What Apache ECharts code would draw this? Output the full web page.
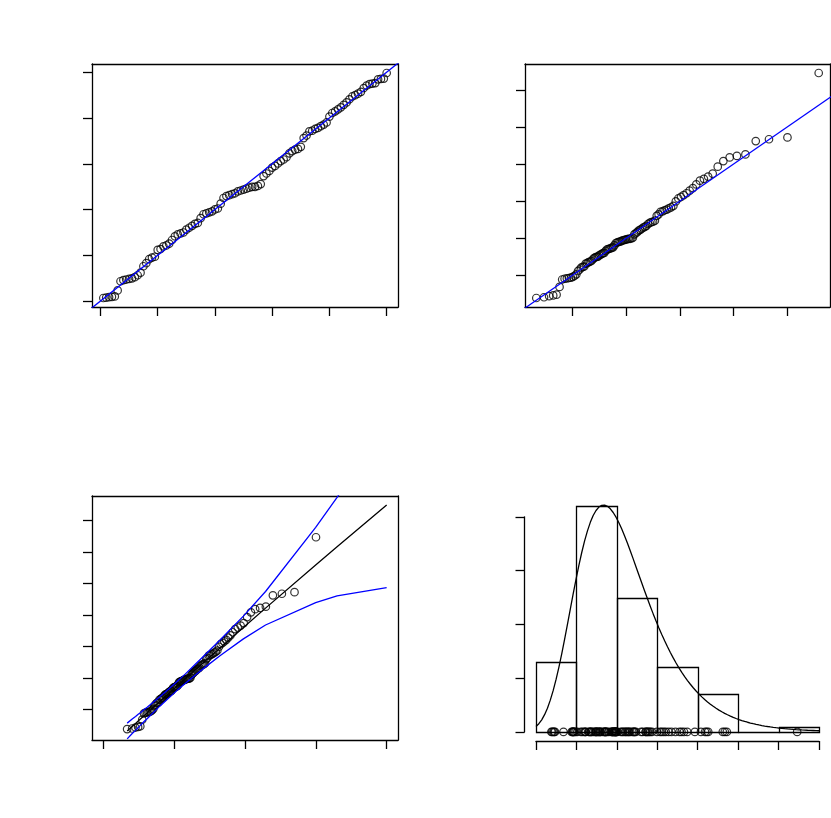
<!DOCTYPE html>
<html>
<head>
<meta charset="utf-8">
<script src="https://cdn.jsdelivr.net/npm/echarts@6/dist/echarts.min.js"></script>
<style>
  html, body { margin: 0; padding: 0; background: #fff; }
  #chart { width: 831px; height: 818px; }
</style>
</head>
<body>
<div id="chart"></div>
<script>
// sorted sample
const obs = [
  0.38, 0.40, 0.43, 0.45, 0.47, 0.68, 0.88, 0.90, 0.91, 0.92,
  0.93, 0.95, 0.98, 1.02, 1.11, 1.15, 1.20, 1.22, 1.23, 1.31,
  1.32, 1.35, 1.36, 1.38, 1.42, 1.46, 1.48, 1.49, 1.50, 1.53,
  1.55, 1.57, 1.59, 1.60, 1.65, 1.69, 1.70, 1.71, 1.72, 1.74,
  1.75, 1.80, 1.86, 1.88, 1.89, 1.90, 1.91, 1.93, 1.94, 1.95,
  1.96, 1.97, 1.98, 1.98, 1.99, 2.01, 2.10, 2.13, 2.16, 2.20,
  2.22, 2.25, 2.28, 2.30, 2.33, 2.38, 2.41, 2.43, 2.44, 2.47,
  2.60, 2.64, 2.71, 2.72, 2.75, 2.77, 2.80, 2.83, 2.87, 2.99,
  3.07, 3.11, 3.16, 3.21, 3.28, 3.35, 3.45, 3.55, 3.60, 3.66,
  3.74, 3.93, 4.08, 4.18, 4.22, 4.26, 4.62, 4.67, 4.72, 6.46
];

// fitted GEV (location, scale, shape), estimated from the plots
const gevFit = [1.663, 0.8716, -0.01];

// histogram breaks
const histBreaks = [0, 1, 2, 3, 4, 5, 6, 7];

// return level plot: probabilities and the 95% band
const rlProbs = [0.01, 0.02, 0.03, 0.04, 0.05, 0.06, 0.07, 0.08, 0.09, 0.1,
  0.2, 0.3, 0.4, 0.5, 0.6, 0.7, 0.8, 0.9, 0.95, 0.99, 0.995, 0.999];
const rlUpper = [0.57, 0.70, 0.78, 0.85, 0.90, 0.95, 1.00, 1.04, 1.07, 1.11,
  1.40, 1.64, 1.88, 2.13, 2.42, 2.76, 3.21, 3.96, 4.74, 6.77, 7.72, 10.10];
const rlLower = [0.07, 0.24, 0.34, 0.43, 0.50, 0.56, 0.62, 0.67, 0.71, 0.76,
  1.10, 1.36, 1.60, 1.83, 2.08, 2.36, 2.71, 3.24, 3.68, 4.39, 4.60, 4.86];

// tick positions (no labels drawn)
const ppTicks = [0, 0.2, 0.4, 0.6, 0.8, 1];
const qqTicksX = [1, 2, 3, 4, 5];
const qqTicksY = [1, 2, 3, 4, 5, 6];
const rlPeriodTicks = [0.1, 1, 10, 100, 1000];
const rlTicksY = [1, 2, 3, 4, 5, 6, 7];
const densTicksX = [0, 1, 2, 3, 4, 5, 6, 7];
const densTicksY = [0, 0.1, 0.2, 0.3, 0.4];

const ink = '#000';
const blue = '#0000ff';
const lw = 1.3;

function gevCdf(x) {
    const [mu, sc, xi] = gevFit;
    const t = Math.pow(1 + xi * (x - mu) / sc, -1 / xi);
    return Math.exp(-t);
}
function gevQuantile(p) {
    const [mu, sc, xi] = gevFit;
    return mu + sc * (Math.pow(-Math.log(p), -xi) - 1) / xi;
}
function gevPdf(x) {
    const [mu, sc, xi] = gevFit;
    const t = Math.pow(1 + xi * (x - mu) / sc, -1 / xi);
    return Math.pow(t, xi + 1) * Math.exp(-t) / sc;
}
// R's default 4% axis extension
function rRange(lo, hi) {
    const d = (hi - lo) * 0.04;
    return [lo - d, hi + d];
}
const n = obs.length;

// probability plot
const ppData = obs.map((v, i) => [(i + 1) / n, gevCdf(v)]);
const ppX = rRange(ppData[0][0], ppData[n - 1][0]);
const ppY = rRange(ppData[0][1], ppData[n - 1][1]);

// quantile plot
const qqData = obs.map((v, i) => [gevQuantile((i + 1) / (n + 1)), v]);
const qqX = rRange(qqData[0][0], qqData[n - 1][0]);
const qqY = rRange(obs[0], obs[n - 1]);

// return level plot (x in log10 of return period)
const lgT = p => Math.log10(-1 / Math.log(p));
const rlLevel = rlProbs.map(f => [lgT(f), gevQuantile(f)]);
const rlUp = rlProbs.map((f, k) => [lgT(f), rlUpper[k]]);
const rlLo = rlProbs.map((f, k) => [lgT(f), rlLower[k]]);
const rlPts = obs.map((v, i) => [lgT((i + 1) / (n + 1)), v]);
const rlX = rRange(Math.log10(0.1), Math.log10(1000));
const rlLevels = rlLevel.map(d => d[1]);
const rlY = rRange(Math.min(obs[0], ...rlLevels), Math.max(obs[n - 1], ...rlLevels));
const rlTicksX = rlPeriodTicks.map(t => Math.log10(t));

// density plot
const binW = histBreaks[1] - histBreaks[0];
const histData = [];
for (let k = 0; k < histBreaks.length - 1; k++) {
    const a = histBreaks[k], b = histBreaks[k + 1];
    const cnt = obs.filter(v => (k === 0 ? v >= a : v > a) && v <= b).length;
    histData.push([a, b, cnt / (n * binW)]);
}
const xs = [];
const bMin = histBreaks[0], bMax = histBreaks[histBreaks.length - 1];
for (let k = 0; k < 100; k++) xs.push(bMin + (bMax - bMin) * k / 99);
const densCurve = xs.map(x => [x, gevPdf(x)]);
const densMax = Math.max(...histData.map(d => d[2]), ...densCurve.map(d => d[1]));
const densY = rRange(0, densMax);
const rugData = obs.map(v => [v, 0]);

// layout (pixels)
const G = [
    { left: 92, top: 64, width: 306, height: 243 },
    { left: 525, top: 64, width: 305, height: 243 },
    { left: 92, top: 496, width: 306, height: 244 },
    { left: 536, top: 496, width: 283, height: 245 }
];
const densScale = G[3].height / (densY[1] - densY[0]);
const densAxisGrid = {
    left: G[3].left, width: G[3].width,
    top: G[3].top + (densY[1] - densTicksY[densTicksY.length - 1]) * densScale,
    height: (densTicksY[densTicksY.length - 1] - densTicksY[0]) * densScale
};

function axis(gridIndex, range, position, ticks, extra) {
    return Object.assign({
        type: 'value',
        gridIndex: gridIndex,
        position: position,
        min: range[0],
        max: range[1],
        axisLine: { show: true, onZero: false, lineStyle: { color: ink, width: lw } },
        axisTick: ticks
            ? { show: true, length: 9, customValues: ticks, lineStyle: { color: ink, width: lw } }
            : { show: false },
        axisLabel: ticks ? { show: false, customValues: ticks } : { show: false },
        splitLine: { show: false }
    }, extra || {});
}

const circle = {
    symbol: 'circle',
    symbolSize: 7.5,
    itemStyle: { color: 'rgba(0,0,0,0)', borderColor: ink, borderWidth: 1.2 }
};
function pts(xi, yi, data, extra) {
    return Object.assign({ type: 'scatter', xAxisIndex: xi, yAxisIndex: yi, data: data, silent: true }, circle, extra || {});
}
function line(xi, yi, data, color) {
    return {
        type: 'line', xAxisIndex: xi, yAxisIndex: yi, data: data,
        showSymbol: false, symbol: 'none', silent: true, clip: true,
        lineStyle: { color: color, width: lw }
    };
}

const lo = Math.min(ppX[0], ppY[0]) - 0.1, hi = Math.max(ppX[1], ppY[1]) + 0.1;
const qlo = Math.min(qqX[0], qqY[0]) - 1, qhi = Math.max(qqX[1], qqY[1]) + 1;

const chart = echarts.init(document.getElementById('chart'), null, { renderer: 'canvas' });
const options = {
    animation: false,
    backgroundColor: '#fff',
    grid: G.concat([densAxisGrid]),
    xAxis: [
        axis(0, ppX, 'bottom', ppTicks),
        axis(0, ppX, 'top', null),
        axis(1, qqX, 'bottom', qqTicksX),
        axis(1, qqX, 'top', null),
        axis(2, rlX, 'bottom', rlTicksX),
        axis(2, rlX, 'top', null),
        axis(3, [bMin, bMax], 'bottom', densTicksX),
        axis(4, [bMin, bMax], 'bottom', null, { show: false })
    ],
    yAxis: [
        axis(0, ppY, 'left', ppTicks),
        axis(0, ppY, 'right', null),
        axis(1, qqY, 'left', qqTicksY),
        axis(1, qqY, 'right', null),
        axis(2, rlY, 'left', rlTicksY),
        axis(2, rlY, 'right', null),
        axis(3, densY, 'left', null, { show: false }),
        axis(4, [densTicksY[0], densTicksY[densTicksY.length - 1]], 'left', densTicksY,
            { offset: G[3].left - 524.5 })
    ],
    series: [
        // probability plot
        pts(0, 0, ppData),
        line(0, 0, [[lo, lo], [hi, hi]], blue),
        // quantile plot
        pts(2, 2, qqData),
        line(2, 2, [[qlo, qlo], [qhi, qhi]], blue),
        // return level plot
        line(4, 4, rlLevel, ink),
        line(4, 4, rlUp, blue),
        line(4, 4, rlLo, blue),
        pts(4, 4, rlPts),
        // density plot
        {
            type: 'custom',
            xAxisIndex: 6,
            yAxisIndex: 6,
            silent: true,
            data: histData,
            encode: { x: [0, 1], y: 2 },
            renderItem: function (params, api) {
                const p0 = api.coord([api.value(0), api.value(2)]);
                const p1 = api.coord([api.value(1), 0]);
                const x0 = Math.round(p0[0]) + 0.5, x1 = Math.round(p1[0]) + 0.5;
                const y0 = Math.round(p0[1]) + 0.5, y1 = Math.round(p1[1]) + 0.5;
                return {
                    type: 'rect',
                    shape: { x: x0, y: y0, width: x1 - x0, height: y1 - y0 },
                    style: { fill: 'none', stroke: ink, lineWidth: lw }
                };
            }
        },
        pts(6, 6, rugData, { clip: false }),
        line(6, 6, densCurve, ink)
    ]
};
chart.setOption(options);
</script>
</body>
</html>
